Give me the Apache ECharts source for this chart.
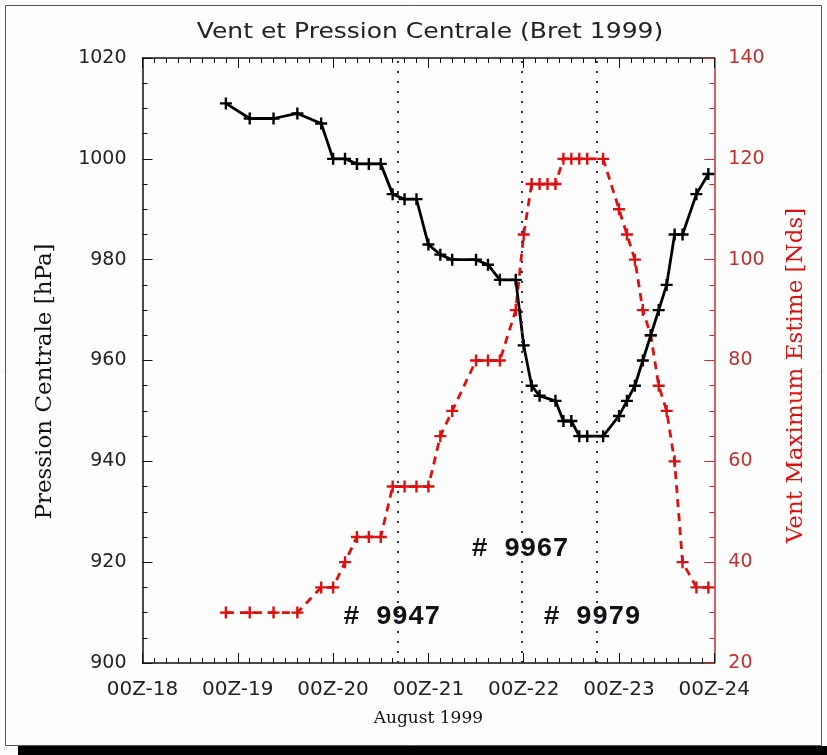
<!DOCTYPE html>
<html>
<head>
<meta charset="utf-8">
<script src="https://cdn.jsdelivr.net/npm/echarts@6/dist/echarts.min.js"></script>
<style>
html,body{margin:0;padding:0;background:#ffffff;}
#chart{width:827px;height:755px;}
</style>
</head>
<body>
<div id="chart"></div>
<script>
// Hours after 00Z 18 August 1999
var hours = [21, 27, 33, 39, 45, 48, 51, 54, 57, 60, 63, 66, 69, 72, 75, 78, 84, 87, 90, 94, 96,
             98, 100, 102, 104, 106, 108, 110, 112, 116, 120, 122, 124, 126, 128, 130, 132, 134, 136, 139.5, 142.5];
// Central pressure (hPa)
var pressureHours = [21, 27, 33, 39, 45, 48, 51, 54, 57, 60, 63, 66, 69, 72, 75, 78, 84, 87, 90, 94,
                     96, 98, 100, 104, 106, 108, 110, 112, 116, 120, 122, 124, 126, 128, 130, 132, 134, 136, 139.5, 142.5];
var pressure = [1011, 1008, 1008, 1009, 1007, 1000, 1000, 999, 999, 999, 993, 992, 992, 983, 981, 980, 980, 979, 976, 976,
                963, 955, 953, 952, 948, 948, 945, 945, 945, 949, 952, 955, 960, 965, 970, 975, 985, 985, 993, 997];
// Estimated maximum wind (knots)
var wind = [30, 30, 30, 30, 35, 35, 40, 45, 45, 45, 55, 55, 55, 55, 65, 70, 80, 80, 80, 90, 105,
            115, 115, 115, 115, 120, 120, 120, 120, 120, 110, 105, 100, 90, 85, 75, 70, 60, 40, 35, 35];
// Reconnaissance flight markers
var flightHours = [64.3, 95.6, 114.4];
var flightLabels = ['# 9947', '# 9967', '# 9979'];
var flightLabelPos = [[62.8, 909], [95.1, 922.6], [113.2, 909]];
var xTickDays = ['00Z-18', '00Z-19', '00Z-20', '00Z-21', '00Z-22', '00Z-23', '00Z-24'];

var plus = 'path://M4,0 H6 V4 H10 V6 H6 V10 H4 V6 H0 V4 H4 Z';
var RED = '#dd1010';
var AXRED = '#c03030';

var chart = echarts.init(document.getElementById('chart'), null, {renderer: 'canvas'});

var option = {
  backgroundColor: '#fdfdfd',
  animation: false,
  grid: {left: 142.5, right: 112.7, top: 58, bottom: 92, containLabel: false},
  graphic: [
    {type: 'rect', shape: {x: 5.5, y: 5.5, width: 816, height: 740}, style: {fill: 'none', stroke: '#555', lineWidth: 1}, silent: true, z: -1},
    {type: 'rect', shape: {x: 18, y: 746, width: 809, height: 9}, style: {fill: '#000'}, silent: true},
    {type: 'text', x: 430, y: 33, scaleX: 1.19,
     style: {text: 'Vent et Pression Centrale (Bret 1999)', font: '21px "DejaVu Sans"', fill: '#222', textAlign: 'center', textVerticalAlign: 'middle'}}
  ],
  xAxis: [
    {
      type: 'value', min: 0, max: 144, interval: 24, position: 'bottom',
      name: 'August 1999', nameLocation: 'middle', nameGap: 47,
      nameTextStyle: {fontFamily: 'DejaVu Serif', fontSize: 17, color: '#111'},
      axisLine: {show: true, lineStyle: {color: '#111', width: 1.5}},
      axisTick: {show: true, inside: true, length: 10, lineStyle: {color: '#111'}},
      minorTick: {show: true, splitNumber: 8, length: 5, lineStyle: {color: '#111'}},
      splitLine: {show: false},
      axisLabel: {margin: 17, fontFamily: 'DejaVu Sans', fontSize: 20, color: '#222',
        formatter: function (v) { return xTickDays[Math.round(v / 24)]; }}
    },
    {
      type: 'value', min: 0, max: 144, interval: 24, position: 'top',
      axisLine: {show: true, onZero: false, lineStyle: {color: '#111', width: 1.5}},
      axisTick: {show: true, inside: true, length: 10, lineStyle: {color: '#111'}},
      minorTick: {show: true, splitNumber: 8, length: 5, lineStyle: {color: '#111'}},
      splitLine: {show: false},
      axisLabel: {show: false}
    }
  ],
  yAxis: [
    {
      type: 'value', min: 900, max: 1020, interval: 20, position: 'left',
      name: 'Pression Centrale [hPa]', nameLocation: 'middle', nameGap: 86, nameRotate: 90,
      nameTextStyle: {fontFamily: 'DejaVu Serif', fontSize: 23, color: '#111', padding: [0, 42, 0, 0]},
      axisLine: {show: true, onZero: false, lineStyle: {color: '#111', width: 1.5}},
      axisTick: {show: true, inside: true, length: 10, lineStyle: {color: '#111'}},
      minorTick: {show: true, splitNumber: 4, length: 5, lineStyle: {color: '#111'}},
      splitLine: {show: false},
      axisLabel: {margin: 16, fontFamily: 'DejaVu Sans', fontSize: 19, color: '#222',
        formatter: function (v) { return String(v); }}
    },
    {
      type: 'value', min: 20, max: 140, interval: 20, position: 'right',
      name: 'Vent Maximum Estime [Nds]', nameLocation: 'middle', nameGap: 70, nameRotate: 90,
      nameTextStyle: {fontFamily: 'DejaVu Serif', fontSize: 23, color: RED, padding: [0, 30, 0, 0]},
      axisLine: {show: true, onZero: false, lineStyle: {color: AXRED, width: 1.5}},
      axisTick: {show: true, inside: true, length: 10, lineStyle: {color: AXRED}},
      minorTick: {show: true, splitNumber: 4, length: 5, lineStyle: {color: AXRED}},
      splitLine: {show: false},
      axisLabel: {margin: 14, fontFamily: 'DejaVu Sans', fontSize: 19, color: AXRED,
        formatter: function (v) { return String(v); }}
    }
  ],
  series: [
    {
      name: 'Pression', type: 'line', xAxisIndex: 0, yAxisIndex: 0,
      data: pressureHours.map(function (h, i) { return [h, pressure[i]]; }),
      symbol: plus, symbolSize: 12, showAllSymbol: true,
      lineStyle: {color: '#000', width: 2.8},
      itemStyle: {color: '#000'},
      z: 3,
      markLine: {
        silent: true, symbol: ['none', 'none'], label: {show: false},
        lineStyle: {color: '#2a2a7a', type: [2, 8], width: 2},
        data: flightHours.map(function (h) { return {xAxis: h}; })
      }
    },
    {
      name: 'Vent', type: 'line', xAxisIndex: 0, yAxisIndex: 1,
      data: hours.map(function (h, i) { return [h, wind[i]]; }),
      symbol: plus, symbolSize: 12, showAllSymbol: true,
      lineStyle: {color: RED, width: 2.8, type: [8, 6]},
      itemStyle: {color: RED},
      z: 2
    },
    {
      name: 'Vols', type: 'scatter', xAxisIndex: 0, yAxisIndex: 0,
      data: flightLabelPos.map(function (p, i) { return {value: p, name: flightLabels[i]}; }),
      symbolSize: 1, silent: true,
      itemStyle: {opacity: 0},
      label: {show: true, position: 'inside', formatter: '{b}', opacity: 1,
        fontFamily: 'Liberation Mono', fontWeight: 'bold', fontSize: 27, color: '#111'},
      z: 4
    }
  ]
};
chart.setOption(option);
</script>
</body>
</html>
